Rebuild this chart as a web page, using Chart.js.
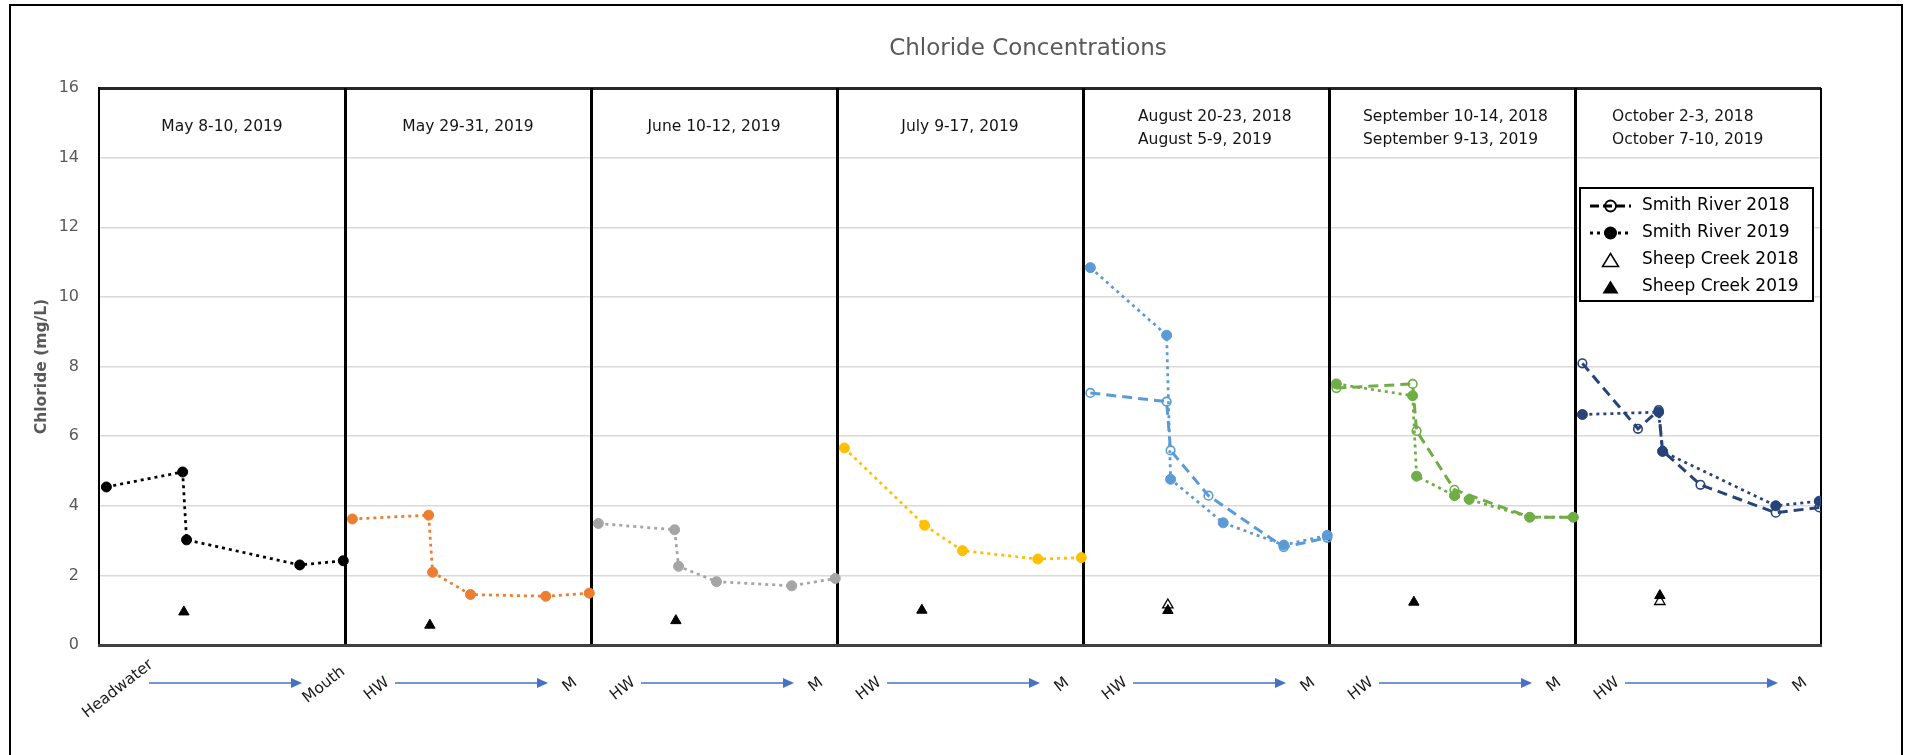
<!DOCTYPE html>
<html>
<head>
<meta charset="utf-8">
<script src="https://cdn.jsdelivr.net/npm/chart.js@4.4.1/dist/chart.umd.min.js"></script>
<style>
  html, body { margin: 0; padding: 0; background: #ffffff; }
  #wrap { position: relative; width: 1910px; height: 755px; }
</style>
</head>
<body>
<div id="wrap"><canvas id="chloride" width="1910" height="755"></canvas></div>
<script>
// ---- Data ---------------------------------------------------------------
const chartTitle = 'Chloride Concentrations';
const yAxisTitle = 'Chloride (mg/L)';

const panelLabels = [
  ['May 8-10, 2019'],
  ['May 29-31, 2019'],
  ['June 10-12, 2019'],
  ['July 9-17, 2019'],
  ['August 20-23, 2018', 'August 5-9, 2019'],
  ['September 10-14, 2018', 'September 9-13, 2019'],
  ['October 2-3, 2018', 'October 7-10, 2019']
];
const reachStartLabels = ['Headwater', 'HW', 'HW', 'HW', 'HW', 'HW', 'HW'];
const reachEndLabels = ['Mouth', 'M', 'M', 'M', 'M', 'M', 'M'];

// Smith River sampling sites, as a fraction of the reach from headwater to mouth
const siteDistance = [0.03, 0.256, 0.34, 0.356, 0.51, 0.57, 0.816, 0.993];
const sheepCreekDistance = 0.345;

// Chloride (mg/L) per sampling event, one value per site (null = not sampled)
const smithRiver2019 = [
  [4.54, null, 4.97, 3.02, null, null, 2.30, 2.42],
  [3.62, null, 3.73, 2.09, 1.45, null, 1.40, 1.49],
  [3.49, null, 3.31, 2.26, 1.82, null, 1.70, 1.91],
  [5.66, null, null, 3.44, 2.71, null, 2.47, 2.51],
  [10.84, null, 8.90, 4.76, null, 3.51, 2.87, 3.15],
  [7.50, null, 7.16, 4.85, 4.29, 4.18, 3.67, 3.67],
  [6.62, null, 6.69, 5.56, null, null, 4.00, 4.13]
];
const smithRiver2018 = [
  null, null, null, null,
  [7.24, null, 6.99, 5.59, 4.29, null, 2.81, 3.08],
  [7.38, null, 7.50, 6.15, 4.46, null, 3.67, 3.67],
  [8.09, 6.21, 6.75, 5.58, 4.60, null, 3.80, 3.95]
];
const sheepCreek2019 = [0.95, 0.57, 0.70, 1.00, 0.99, 1.23, 1.42];
const sheepCreek2018 = [null, null, null, null, 1.15, null, 1.25];

const yTickMin = 0, yTickMax = 16, yTickStep = 2;
const legendLabels = ['Smith River 2018', 'Smith River 2019', 'Sheep Creek 2018', 'Sheep Creek 2019'];

// ---- Style --------------------------------------------------------------
const panelColors = ['#000000', '#ED7D31', '#A5A5A5', '#FFC000', '#5B9BD5', '#70AD47', '#264478'];
const FONT = 'DejaVu Sans';
const headerIndent = [0, 0, 0, 0, 55, 34, 37];

// ---- Datasets -----------------------------------------------------------
function sitePoints(panel, values) {
  const pts = [];
  values.forEach((v, k) => { if (v !== null) pts.push({ x: panel + siteDistance[k], y: v }); });
  return pts;
}
function creekPoints(values) {
  const pts = [];
  values.forEach((v, p) => { if (v !== null) pts.push({ x: p + sheepCreekDistance, y: v }); });
  return pts;
}

const datasets = [];
// first entries are painted last (on top)
datasets.push({
  label: legendLabels[3], data: creekPoints(sheepCreek2019), showLine: false,
  pointStyle: 'triangle', pointRadius: 6, pointBackgroundColor: '#000', pointBorderColor: '#000', pointBorderWidth: 1
});
datasets.push({
  label: legendLabels[2], data: creekPoints(sheepCreek2018), showLine: false,
  pointStyle: 'triangle', pointRadius: 6, pointBackgroundColor: 'rgba(255,255,255,0)', pointBorderColor: '#000', pointBorderWidth: 1.3
});
smithRiver2018.forEach((vals, p) => {
  if (!vals) return;
  datasets.push({
    label: legendLabels[0], data: sitePoints(p, vals), showLine: true,
    borderColor: panelColors[p], borderWidth: 3, borderDash: [10, 6],
    pointStyle: 'circle', pointRadius: 4.3, pointBorderWidth: 1.6,
    pointBorderColor: panelColors[p], pointBackgroundColor: 'rgba(255,255,255,0)'
  });
});
smithRiver2019.forEach((vals, p) => {
  datasets.push({
    label: legendLabels[1], data: sitePoints(p, vals), showLine: true,
    borderColor: panelColors[p], borderWidth: 2.75, borderDash: [3, 4],
    pointStyle: 'circle', pointRadius: 5, pointBorderWidth: 1,
    pointBorderColor: panelColors[p], pointBackgroundColor: panelColors[p]
  });
});

// ---- Decorations: frame, title, panel headers, reach arrows, legend ---
function drawTriangle(ctx, cx, cy, half, h, filled) {
  ctx.beginPath();
  ctx.moveTo(cx, cy - h / 2);
  ctx.lineTo(cx + half, cy + h / 2);
  ctx.lineTo(cx - half, cy + h / 2);
  ctx.closePath();
  if (filled) { ctx.fillStyle = '#000'; ctx.fill(); }
  else { ctx.strokeStyle = '#000'; ctx.lineWidth = 1.5; ctx.stroke(); }
}

const decor = {
  id: 'decor',
  beforeDraw(chart) {
    const ctx = chart.ctx;
    ctx.save();
    ctx.fillStyle = '#ffffff';
    ctx.fillRect(0, 0, chart.width, chart.height);
    ctx.restore();
  },
  afterDraw(chart) {
    const { ctx, chartArea, scales: { x } } = chart;
    ctx.save();

    // outer chart frame
    ctx.strokeStyle = '#000';
    ctx.lineWidth = 2;
    ctx.beginPath();
    ctx.moveTo(10, chart.height + 2);
    ctx.lineTo(10, 5);
    ctx.lineTo(1902, 5);
    ctx.lineTo(1902, chart.height + 2);
    ctx.stroke();

    // title
    ctx.fillStyle = '#595959';
    ctx.font = '23px "' + FONT + '"';
    ctx.textAlign = 'center';
    ctx.textBaseline = 'middle';
    ctx.fillText(chartTitle, 1028, 49);

    // panel headers
    ctx.fillStyle = '#141414';
    ctx.font = '15.5px "' + FONT + '"';
    panelLabels.forEach((lines, p) => {
      const left = x.getPixelForValue(p);
      const right = x.getPixelForValue(p + 1);
      if (lines.length === 1) {
        ctx.textAlign = 'center';
        ctx.fillText(lines[0], (left + right) / 2, chartArea.top + 39);
      } else {
        ctx.textAlign = 'left';
        lines.forEach((t, i) => ctx.fillText(t, left + headerIndent[p], chartArea.top + 29 + i * 23));
      }
    });

    // headwater -> mouth arrows under each panel
    const ay = chartArea.bottom + 38;
    panelLabels.forEach((_, p) => {
      const left = x.getPixelForValue(p);
      const x0 = left + 50, x1 = left + 203;
      ctx.strokeStyle = '#4472C4';
      ctx.fillStyle = '#4472C4';
      ctx.lineWidth = 1.6;
      ctx.beginPath();
      ctx.moveTo(x0, ay);
      ctx.lineTo(x1 - 9, ay);
      ctx.stroke();
      ctx.beginPath();
      ctx.moveTo(x1, ay);
      ctx.lineTo(x1 - 11, ay - 5);
      ctx.lineTo(x1 - 11, ay + 5);
      ctx.closePath();
      ctx.fill();

      ctx.fillStyle = '#1a1a1a';
      ctx.font = '15.5px "' + FONT + '"';
      ctx.textAlign = 'center';
      ctx.textBaseline = 'middle';
      const sx = p === 0 ? left + 19 : left + 32;
      ctx.save();
      ctx.translate(sx, ay + 6);
      ctx.rotate(-38 * Math.PI / 180);
      ctx.fillText(reachStartLabels[p], 0, 0);
      ctx.restore();
      ctx.save();
      ctx.translate(left + 225, ay + 2);
      ctx.rotate(-38 * Math.PI / 180);
      ctx.fillText(reachEndLabels[p], 0, 0);
      ctx.restore();
    });

    // legend
    const bx = 1580, by = 188, bw = 233, bh = 113;
    ctx.fillStyle = '#ffffff';
    ctx.fillRect(bx, by, bw, bh);
    ctx.strokeStyle = '#000';
    ctx.lineWidth = 2;
    ctx.strokeRect(bx, by, bw, bh);
    const rows = [206, 233, 260, 287];
    const sx0 = 1590, sx1 = 1631, mx = 1610.5;
    // Smith River 2018
    ctx.setLineDash([9, 4]);
    ctx.lineWidth = 3;
    ctx.beginPath(); ctx.moveTo(sx0, rows[0]); ctx.lineTo(sx1, rows[0]); ctx.stroke();
    ctx.setLineDash([]);
    ctx.lineWidth = 1.8;
    ctx.beginPath(); ctx.arc(mx, rows[0], 5.5, 0, Math.PI * 2); ctx.stroke();
    // Smith River 2019
    ctx.setLineDash([3, 4]);
    ctx.lineWidth = 3;
    ctx.beginPath(); ctx.moveTo(sx0, rows[1]); ctx.lineTo(sx1, rows[1]); ctx.stroke();
    ctx.setLineDash([]);
    ctx.fillStyle = '#000';
    ctx.beginPath(); ctx.arc(mx, rows[1], 6.5, 0, Math.PI * 2); ctx.fill();
    // Sheep Creek
    drawTriangle(ctx, mx, rows[2], 8, 13, false);
    drawTriangle(ctx, mx, rows[3], 8, 13, true);
    ctx.fillStyle = '#000';
    ctx.font = '17px "' + FONT + '"';
    ctx.textAlign = 'left';
    ctx.textBaseline = 'middle';
    legendLabels.forEach((t, i) => ctx.fillText(t, 1642, rows[i]));

    ctx.restore();
  }
};

// ---- Chart --------------------------------------------------------------
new Chart(document.getElementById('chloride'), {
  type: 'scatter',
  data: { datasets },
  plugins: [decor],
  options: {
    responsive: false,
    animation: false,
    devicePixelRatio: 1,
    layout: { padding: { top: 88, right: 89, bottom: 110, left: 0 } },
    plugins: {
      legend: { display: false },
      title: { display: false },
      tooltip: { enabled: false }
    },
    scales: {
      y: {
        min: yTickMin, max: yTickMax,
        afterFit(scale) { scale.width = 99; },
        ticks: {
          stepSize: yTickStep, color: '#595959', padding: 20,
          font: { family: FONT, size: 16 }
        },
        grid: {
          drawTicks: false, z: -1,
          color: c => c.tick.value === yTickMax ? '#262626' : (c.tick.value === yTickMin ? 'rgba(0,0,0,0)' : '#d9d9d9'),
          lineWidth: c => c.tick.value === yTickMax ? 3 : 1.5
        },
        border: { color: '#000', width: 2 },
        title: {
          display: true, text: yAxisTitle, color: '#595959',
          font: { family: FONT, size: 15.5, weight: 'bold' },
          padding: { top: 33, bottom: 0 }
        }
      },
      x: {
        type: 'linear', min: 0, max: panelLabels.length,
        afterFit(scale) { scale.height = 0; },
        ticks: { display: false, stepSize: 1 },
        grid: {
          drawTicks: false, color: '#000',
          lineWidth: c => (c.tick.value === 0 || c.tick.value === panelLabels.length) ? 2 : 3
        },
        border: { color: '#404040', width: 3 }
      }
    }
  }
});
</script>
</body>
</html>
